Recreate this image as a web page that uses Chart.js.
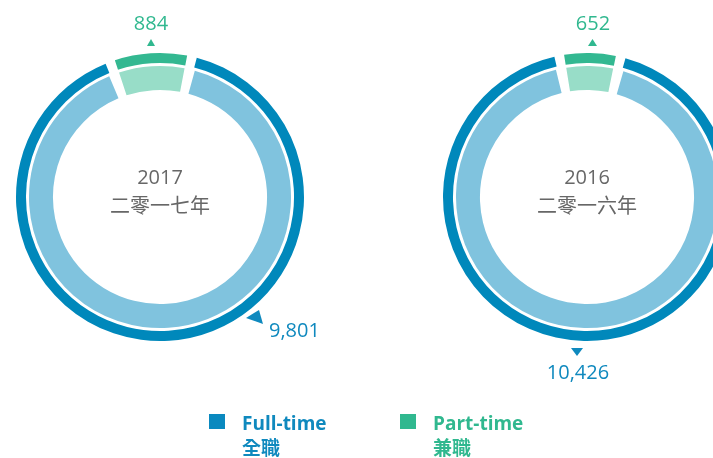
<!DOCTYPE html>
<html>
<head>
<meta charset="utf-8">
<script src="https://cdn.jsdelivr.net/npm/chart.js@4/dist/chart.umd.min.js"></script>
<style>
    html, body { margin: 0; padding: 0; background: #ffffff; }
    #stage { position: relative; width: 713px; height: 458px; overflow: hidden; font-family: "Open Sans", "Noto Sans CJK TC", sans-serif; }
    canvas { position: absolute; top: 0; }
    .lbl { position: absolute; font-size: 20px; line-height: 1; white-space: nowrap; }
    .center { transform: translateX(-50%); text-align: center; color: #676767; }
    .green { color: #30b88f; }
    .blue { color: #0f89be; }
    .legend-item { position: absolute; top: 412px; display: flex; }
    .legend-item .box { width: 16px; height: 15px; margin-top: 2px; margin-right: 17px; }
    .legend-item .txt { font-size: 19px; font-weight: 700; line-height: 25px; margin-top: -1px; }
    #overlay { position: absolute; left: 0; top: 0; }
</style>
</head>
<body>
<div id="stage">
    <canvas id="chart2017" width="320" height="394" style="left:0px"></canvas>
    <canvas id="chart2016" width="320" height="394" style="left:427px"></canvas>

    <div class="lbl center" style="left:160px; top:167px;" id="year2017"></div>
    <div class="lbl center" style="left:160px; top:196px;" id="yearZh2017"></div>
    <div class="lbl center" style="left:587px; top:167px;" id="year2016"></div>
    <div class="lbl center" style="left:587px; top:196px;" id="yearZh2016"></div>

    <div class="lbl green" style="left:151px; top:13px; transform:translateX(-50%);" id="part2017"></div>
    <div class="lbl green" style="left:593px; top:13px; transform:translateX(-50%);" id="part2016"></div>
    <div class="lbl blue" style="left:269px; top:320px;" id="full2017"></div>
    <div class="lbl blue" style="left:578px; top:362px; transform:translateX(-50%);" id="full2016"></div>

    <svg id="overlay" width="713" height="458">
        <polygon points="147,46 155,46 151,39" fill="#30b88f"/>
        <polygon points="588,46 597,46 592.5,39" fill="#30b88f"/>
        <polygon points="246,318 259,310 263,324" fill="#0f89be"/>
        <polygon points="571,348 583,348 577,356" fill="#0f89be"/>
    </svg>

    <div class="legend-item" style="left:209px;">
        <div class="box" style="background:#0a89bf"></div>
        <div class="txt blue" id="legendFull"></div>
    </div>
    <div class="legend-item" style="left:400px;">
        <div class="box" style="background:#30b88f"></div>
        <div class="txt green" id="legendPart"></div>
    </div>
</div>

<script>
// data
const years = ['2017', '2016'];
const yearsZh = ['二零一七年', '二零一六年'];
const seriesNames = ['Full-time', 'Part-time'];
const seriesNamesZh = ['全職', '兼職'];
const fullTime = [9801, 10426];
const partTime = [884, 652];
// angle (deg, clockwise from top) where the middle of the part-time slice sits
const partCenterAngle = [-3.7, 1.2];

const darkColors = ['#33b891', '#0088bb'];
const lightColors = ['#98ddc8', '#80c3de'];

function fmt(n) {
    return n.toLocaleString('en-US');
}

function buildDonut(canvasId, index) {
    const ctx = document.getElementById(canvasId).getContext('2d');
    const values = [partTime[index], fullTime[index]];
    const total = values[0] + values[1];
    const partSpan = values[0] / total * 360;

    return new Chart(ctx, {
        type: 'doughnut',
        data: {
            labels: [seriesNames[1], seriesNames[0]],
            datasets: [
                { data: values, backgroundColor: darkColors, borderWidth: 0, spacing: 6, weight: 10 },
                { data: values, backgroundColor: ['rgba(0,0,0,0)', 'rgba(0,0,0,0)'], borderWidth: 0, weight: 3 },
                { data: values, backgroundColor: lightColors, borderWidth: 0, spacing: 6, weight: 24 }
            ]
        },
        options: {
            responsive: false,
            animation: false,
            events: [],
            radius: 141,
            cutout: '73.8%',
            rotation: partCenterAngle[index] - partSpan / 2,
            plugins: {
                legend: { display: false },
                tooltip: { enabled: false }
            }
        }
    });
}

buildDonut('chart2017', 0);
buildDonut('chart2016', 1);

document.getElementById('year2017').textContent = years[0];
document.getElementById('yearZh2017').textContent = yearsZh[0];
document.getElementById('year2016').textContent = years[1];
document.getElementById('yearZh2016').textContent = yearsZh[1];
document.getElementById('part2017').textContent = fmt(partTime[0]);
document.getElementById('part2016').textContent = fmt(partTime[1]);
document.getElementById('full2017').textContent = fmt(fullTime[0]);
document.getElementById('full2016').textContent = fmt(fullTime[1]);
document.getElementById('legendFull').innerHTML = seriesNames[0] + '<br>' + seriesNamesZh[0];
document.getElementById('legendPart').innerHTML = seriesNames[1] + '<br>' + seriesNamesZh[1];
</script>
</body>
</html>
